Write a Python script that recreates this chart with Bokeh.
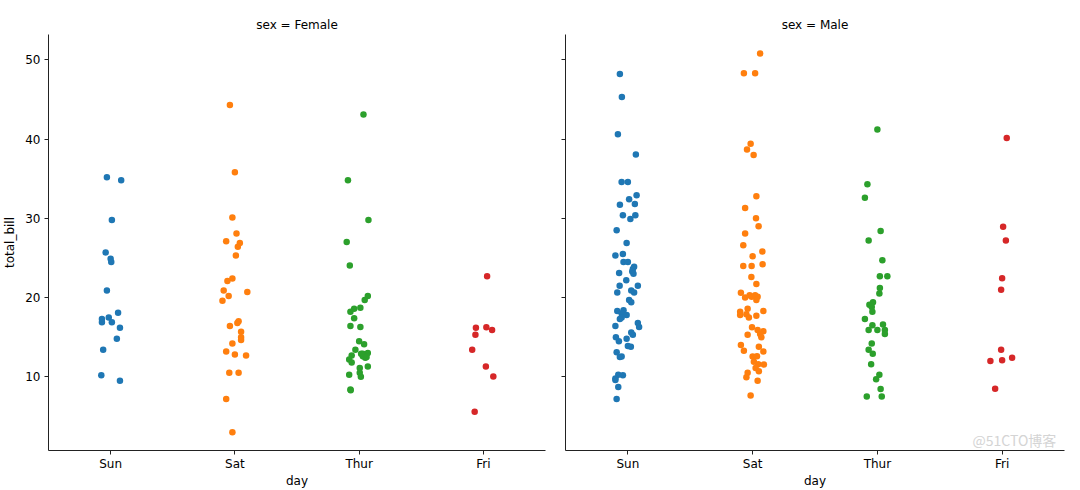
from bokeh.plotting import figure
from bokeh.layouts import row
from bokeh.models import FixedTicker, Range1d, Label
from bokeh.embed import file_html
from bokeh.resources import INLINE

days = ["Sun", "Sat", "Thur", "Fri"]
colors = ["#1f77b4", "#ff7f0e", "#2ca02c", "#d62728"]
y_ticks = [10, 20, 30, 40, 50]

# ---- Female panel (with jitter offsets) ----
f_sun_bill = [35.2, 34.8, 29.8, 25.7, 24.9, 24.5, 20.9, 18.1, 17.3, 16.9, 17.5, 16.9, 16.2, 14.8, 13.4, 10.2, 9.5]
f_sun_jit = [-0.03, 0.085, 0.01, -0.04, 0.0, 0.005, -0.03, 0.06, -0.07, -0.07, -0.015, 0.01, 0.075, 0.05, -0.06, -0.075, 0.075]

f_sat_bill = [44.3, 35.8, 30.1, 28.1, 27.1, 26.9, 26.4, 25.3, 22.4, 22.1, 20.9, 20.2, 20.7, 19.6, 17.0, 16.8, 16.4,
              15.7, 15.0, 14.65, 14.2, 13.2, 12.8, 12.7, 10.5, 10.5, 7.2, 3.0]
f_sat_jit = [-0.04, 0.0, -0.02, 0.013, -0.07, 0.04, 0.024, 0.008, -0.02, -0.06, -0.09, -0.05, 0.1, -0.1, 0.03, 0.02, -0.04,
             0.05, 0.05, 0.05, -0.02, -0.07, 0.0, 0.09, -0.045, 0.03, -0.07, -0.02]

f_thu_bill = [43.1, 34.8, 29.8, 27.0, 24.05, 20.2, 19.7, 18.7, 18.6, 18.2, 17.4, 16.4, 16.3, 14.5, 14.1, 13.4, 12.9,
              13.0, 12.4, 12.6, 12.7, 12.2, 11.8, 11.3, 11.1, 10.5, 10.25, 10.0, 8.4, 8.3, 12.9, 12.5]
f_thu_jit = [0.035, -0.09, 0.075, -0.1, -0.075, 0.07, 0.045, 0.01, -0.04, -0.07, -0.04, -0.07, 0.01, 0.0, 0.04, -0.03, 0.016,
             0.07, 0.05, 0.03, -0.06, -0.08, -0.06, 0.07, 0.005, 0.005, -0.08, 0.014, -0.07, -0.068, 0.03, 0.06]

f_fri_bill = [22.7, 16.2, 16.25, 15.9, 15.3, 13.4, 11.3, 10.05, 5.6]
f_fri_jit = [0.03, -0.06, 0.024, 0.07, -0.064, -0.09, 0.02, 0.08, -0.07]

# ---- Male panel ----
m_sun_bill = [48.2, 45.3, 40.6, 38.05, 34.6, 34.6, 32.9, 32.4, 31.7, 31.8, 30.4, 30.4, 29.9, 28.5, 26.9, 25.3, 25.5,
              24.5, 24.5, 23.9, 23.6, 23.3, 23.0, 23.1, 22.2, 21.5, 21.5, 20.9, 20.65, 20.65, 19.7, 19.4, 18.3, 18.4,
              18.0, 17.8, 17.5, 17.3, 16.4, 16.8, 16.3, 15.6, 15.3, 15.0, 14.5, 14.8, 13.9, 13.8, 13.1, 12.55, 12.5,
              10.25, 10.2, 9.8, 9.6, 8.7, 7.2]
m_sun_jit = [-0.064, -0.048, -0.08, 0.064, -0.05, 0.0, 0.07, 0.01, -0.064, 0.056, -0.04, 0.06, 0.02, -0.09, -0.01, -0.1, -0.04,
             -0.035, 0.0, 0.05, 0.04, 0.035, 0.045, -0.07, -0.013, -0.066, 0.08, 0.027, 0.05, -0.085, 0.01, 0.027, -0.085, -0.035,
             -0.05, -0.01, -0.05, -0.064, -0.1, 0.08, 0.09, 0.027, 0.04, -0.096, -0.072, -0.01, 0.0, 0.024, -0.09, -0.05, -0.064,
             -0.077, -0.04, -0.1, -0.1, -0.077, -0.09]

m_sat_bill = [50.8, 48.3, 48.3, 39.4, 38.7, 38.0, 32.8, 31.3, 30.0, 29.0, 28.1, 26.6, 25.8, 25.2, 24.0, 24.0, 24.2,
              22.6, 21.7, 20.6, 20.0, 20.3, 20.3, 20.1, 19.7, 20.1, 18.2, 18.6, 17.8, 17.9, 17.5, 17.7, 18.3, 16.25,
              15.9, 15.75, 15.4, 15.0, 15.3, 14.0, 13.3, 13.8, 13.2, 12.55, 12.6, 11.9, 11.6, 11.55, 11.1, 10.7, 10.5,
              9.95, 9.5, 7.65]
m_sat_jit = [0.06, -0.07, 0.02, -0.016, -0.045, 0.008, 0.03, -0.06, 0.027, 0.048, -0.06, -0.075, 0.078, 0.0, -0.075, -0.008, 0.08,
             -0.01, 0.03, -0.094, -0.06, -0.024, 0.02, 0.04, 0.03, -0.008, -0.1, -0.04, -0.1, -0.05, -0.03, 0.03, 0.086, -0.005,
             0.04, 0.086, 0.06, 0.07, -0.04, -0.094, -0.07, 0.05, 0.086, 0.0, 0.035, 0.01, 0.045, 0.09, 0.024, 0.05, -0.04,
             -0.05, 0.04, -0.016]

m_thu_bill = [41.2, 34.3, 32.6, 28.4, 27.2, 24.7, 22.7, 22.7, 21.2, 20.5, 19.4, 19.1, 18.8, 18.2, 17.3, 16.5, 16.6,
              15.9, 15.9, 15.9, 15.4, 14.2, 13.4, 12.9, 11.6, 10.25, 9.7, 8.45, 7.5, 7.5]
m_thu_jit = [0.0, -0.08, -0.1, 0.026, -0.07, 0.04, 0.02, 0.08, 0.02, 0.016, -0.035, -0.064, -0.045, -0.04, -0.1, -0.04, 0.045,
             -0.07, 0.0, 0.06, 0.06, -0.045, -0.07, -0.037, -0.05, 0.016, -0.01, 0.026, -0.085, 0.035]

m_fri_bill = [40.15, 28.95, 27.2, 22.45, 21.0, 13.4, 12.0, 12.1, 12.4, 8.5]
m_fri_jit = [0.037, 0.008, 0.03, 0.0, -0.008, -0.008, -0.094, 0.0, 0.08, -0.056]

panels = [
    ("sex = Female", [(f_sun_bill, f_sun_jit), (f_sat_bill, f_sat_jit), (f_thu_bill, f_thu_jit), (f_fri_bill, f_fri_jit)]),
    ("sex = Male", [(m_sun_bill, m_sun_jit), (m_sat_bill, m_sat_jit), (m_thu_bill, m_thu_jit), (m_fri_bill, m_fri_jit)]),
]

FONT = "DejaVu Sans"
FS = "12px"


def make_panel(title, groups, first):
    p = figure(
        width=555 if first else 523, height=490,
        x_range=Range1d(-0.5, 3.5), y_range=Range1d(0.7, 53.2),
        output_backend="svg", toolbar_location=None,
        min_border_left=46 if first else 10, min_border_right=10 if first else 14,
        min_border_top=34, min_border_bottom=36,
        title=title,
    )
    p.title.align = "center"
    p.title.text_font = FONT
    p.title.text_font_size = FS
    p.title.text_font_style = "normal"
    p.title.text_color = "black"
    p.title.standoff = 6
    p.outline_line_color = None
    p.xgrid.visible = False
    p.ygrid.visible = False
    p.background_fill_color = "white"
    p.border_fill_color = "white"

    for i, (vals, jit) in enumerate(groups):
        xs = [i + j for j in jit]
        p.scatter(xs, vals, size=6.5, fill_color=colors[i], line_color=None)

    for ax in (p.xaxis[0], p.yaxis[0]):
        ax.axis_line_color = "#222222"
        ax.major_tick_line_color = "#222222"
        ax.minor_tick_line_color = None
        ax.major_tick_in = 0
        ax.major_tick_out = 4
        ax.major_label_standoff = 4
        ax.axis_label_standoff = 5
        ax.major_label_text_font = FONT
        ax.major_label_text_font_size = FS
        ax.major_label_text_color = "black"
        ax.axis_label_text_font = FONT
        ax.axis_label_text_font_size = FS
        ax.axis_label_text_font_style = "normal"
        ax.axis_label_text_color = "black"

    p.xaxis.ticker = FixedTicker(ticks=list(range(len(days))))
    p.xaxis.major_label_overrides = {i: d for i, d in enumerate(days)}
    p.xaxis.axis_label = "day"
    p.xaxis.major_label_standoff = 2
    p.xaxis.axis_label_standoff = 0
    p.yaxis.ticker = FixedTicker(ticks=y_ticks)
    if first:
        p.yaxis.axis_label = "total_bill"
    else:
        p.yaxis.major_label_text_font_size = "0px"
        p.yaxis.major_label_standoff = 0
        wm = Label(x=407, y=1, x_units="screen", y_units="screen", text="@51CTO博客",
                   text_font="Noto Sans CJK SC", text_font_size="14px", text_color="#d4d4d4")
        p.add_layout(wm)
    return p


p1 = make_panel(panels[0][0], panels[0][1], True)
p2 = make_panel(panels[1][0], panels[1][1], False)
layout = row(p1, p2)

open("out.html", "w").write(file_html(layout, INLINE))
